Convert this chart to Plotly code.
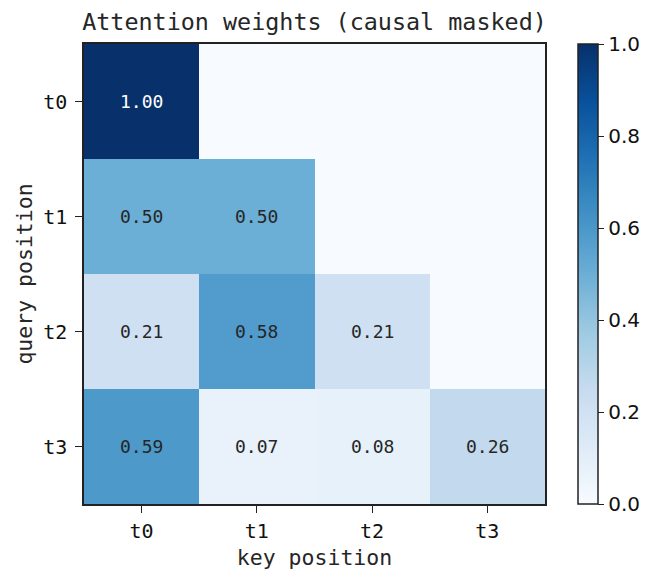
import plotly.graph_objects as go

keys = ["t0", "t1", "t2", "t3"]
queries = ["t0", "t1", "t2", "t3"]
weights = [
    [1.00, None, None, None],
    [0.50, 0.50, None, None],
    [0.21, 0.58, 0.21, None],
    [0.59, 0.07, 0.08, 0.26],
]
z = [[(v if v is not None else 0.0) for v in row] for row in weights]

blues = ["#f7fbff", "#deebf7", "#c6dbef", "#9ecae1", "#6baed6",
         "#4292c6", "#2171b5", "#08519c", "#08306b"]
colorscale = [[i / (len(blues) - 1), c] for i, c in enumerate(blues)]

mono = "DejaVu Sans Mono"
W, H = 663, 584
L, R, T, B = 84, 118, 44, 80
pw = W - L - R

fig = go.Figure(go.Heatmap(
    z=z, x=keys, y=queries, colorscale=colorscale, zmin=0, zmax=1,
    showscale=True, hoverinfo="skip",
    colorbar=dict(
        x=(578 - L) / pw, xanchor="left", xref="paper",
        y=0.5, yanchor="middle", len=1, lenmode="fraction",
        thickness=20, thicknessmode="pixels",
        outlinewidth=1.5, outlinecolor="#222",
        tickmode="array", tickvals=[0, 0.2, 0.4, 0.6, 0.8, 1.0],
        ticktext=["0.0", "0.2", "0.4", "0.6", "0.8", "1.0"],
        ticks="outside", ticklen=6, tickwidth=1.2, tickcolor="#222",
        tickfont=dict(family="DejaVu Sans", size=20, color="#111"),
        xpad=0, ypad=0,
    ),
))

annotations = []
for i, q in enumerate(queries):
    for j, k in enumerate(keys):
        v = weights[i][j]
        if v is None:
            continue
        annotations.append(dict(
            x=k, y=q, xref="x", yref="y", text=f"{v:.2f}", showarrow=False,
            font=dict(family=mono, size=18, color="white" if v > 0.7 else "#262626"),
        ))

fig.update_layout(
    width=W, height=H, margin=dict(l=L, r=R, t=T, b=B),
    paper_bgcolor="white", plot_bgcolor="white",
    title=dict(text="Attention weights (causal masked)", x=0.5, xref="paper",
               xanchor="center", y=1 - 22 / H, yref="container", yanchor="middle",
               font=dict(family=mono, size=23.4, color="#262626")),
    xaxis=dict(title=dict(text="key position", standoff=8,
                          font=dict(family=mono, size=21.5, color="#262626")),
               tickfont=dict(family=mono, size=20, color="#111"),
               ticks="outside", ticklen=7, tickwidth=1.2, tickcolor="#222",
               ticklabelstandoff=1,
               showline=True, linecolor="#222", linewidth=1.5, mirror=True,
               showgrid=False, zeroline=False, constrain="domain"),
    yaxis=dict(title=dict(text="query position", standoff=5,
                          font=dict(family=mono, size=21.5, color="#262626")),
               tickfont=dict(family=mono, size=20, color="#111"),
               autorange="reversed",
               ticks="outside", ticklen=7, tickwidth=1.2, tickcolor="#222",
               ticklabelstandoff=4,
               showline=True, linecolor="#222", linewidth=1.5, mirror=True,
               showgrid=False, zeroline=False),
    annotations=annotations,
)

fig.write_html("out.html")
